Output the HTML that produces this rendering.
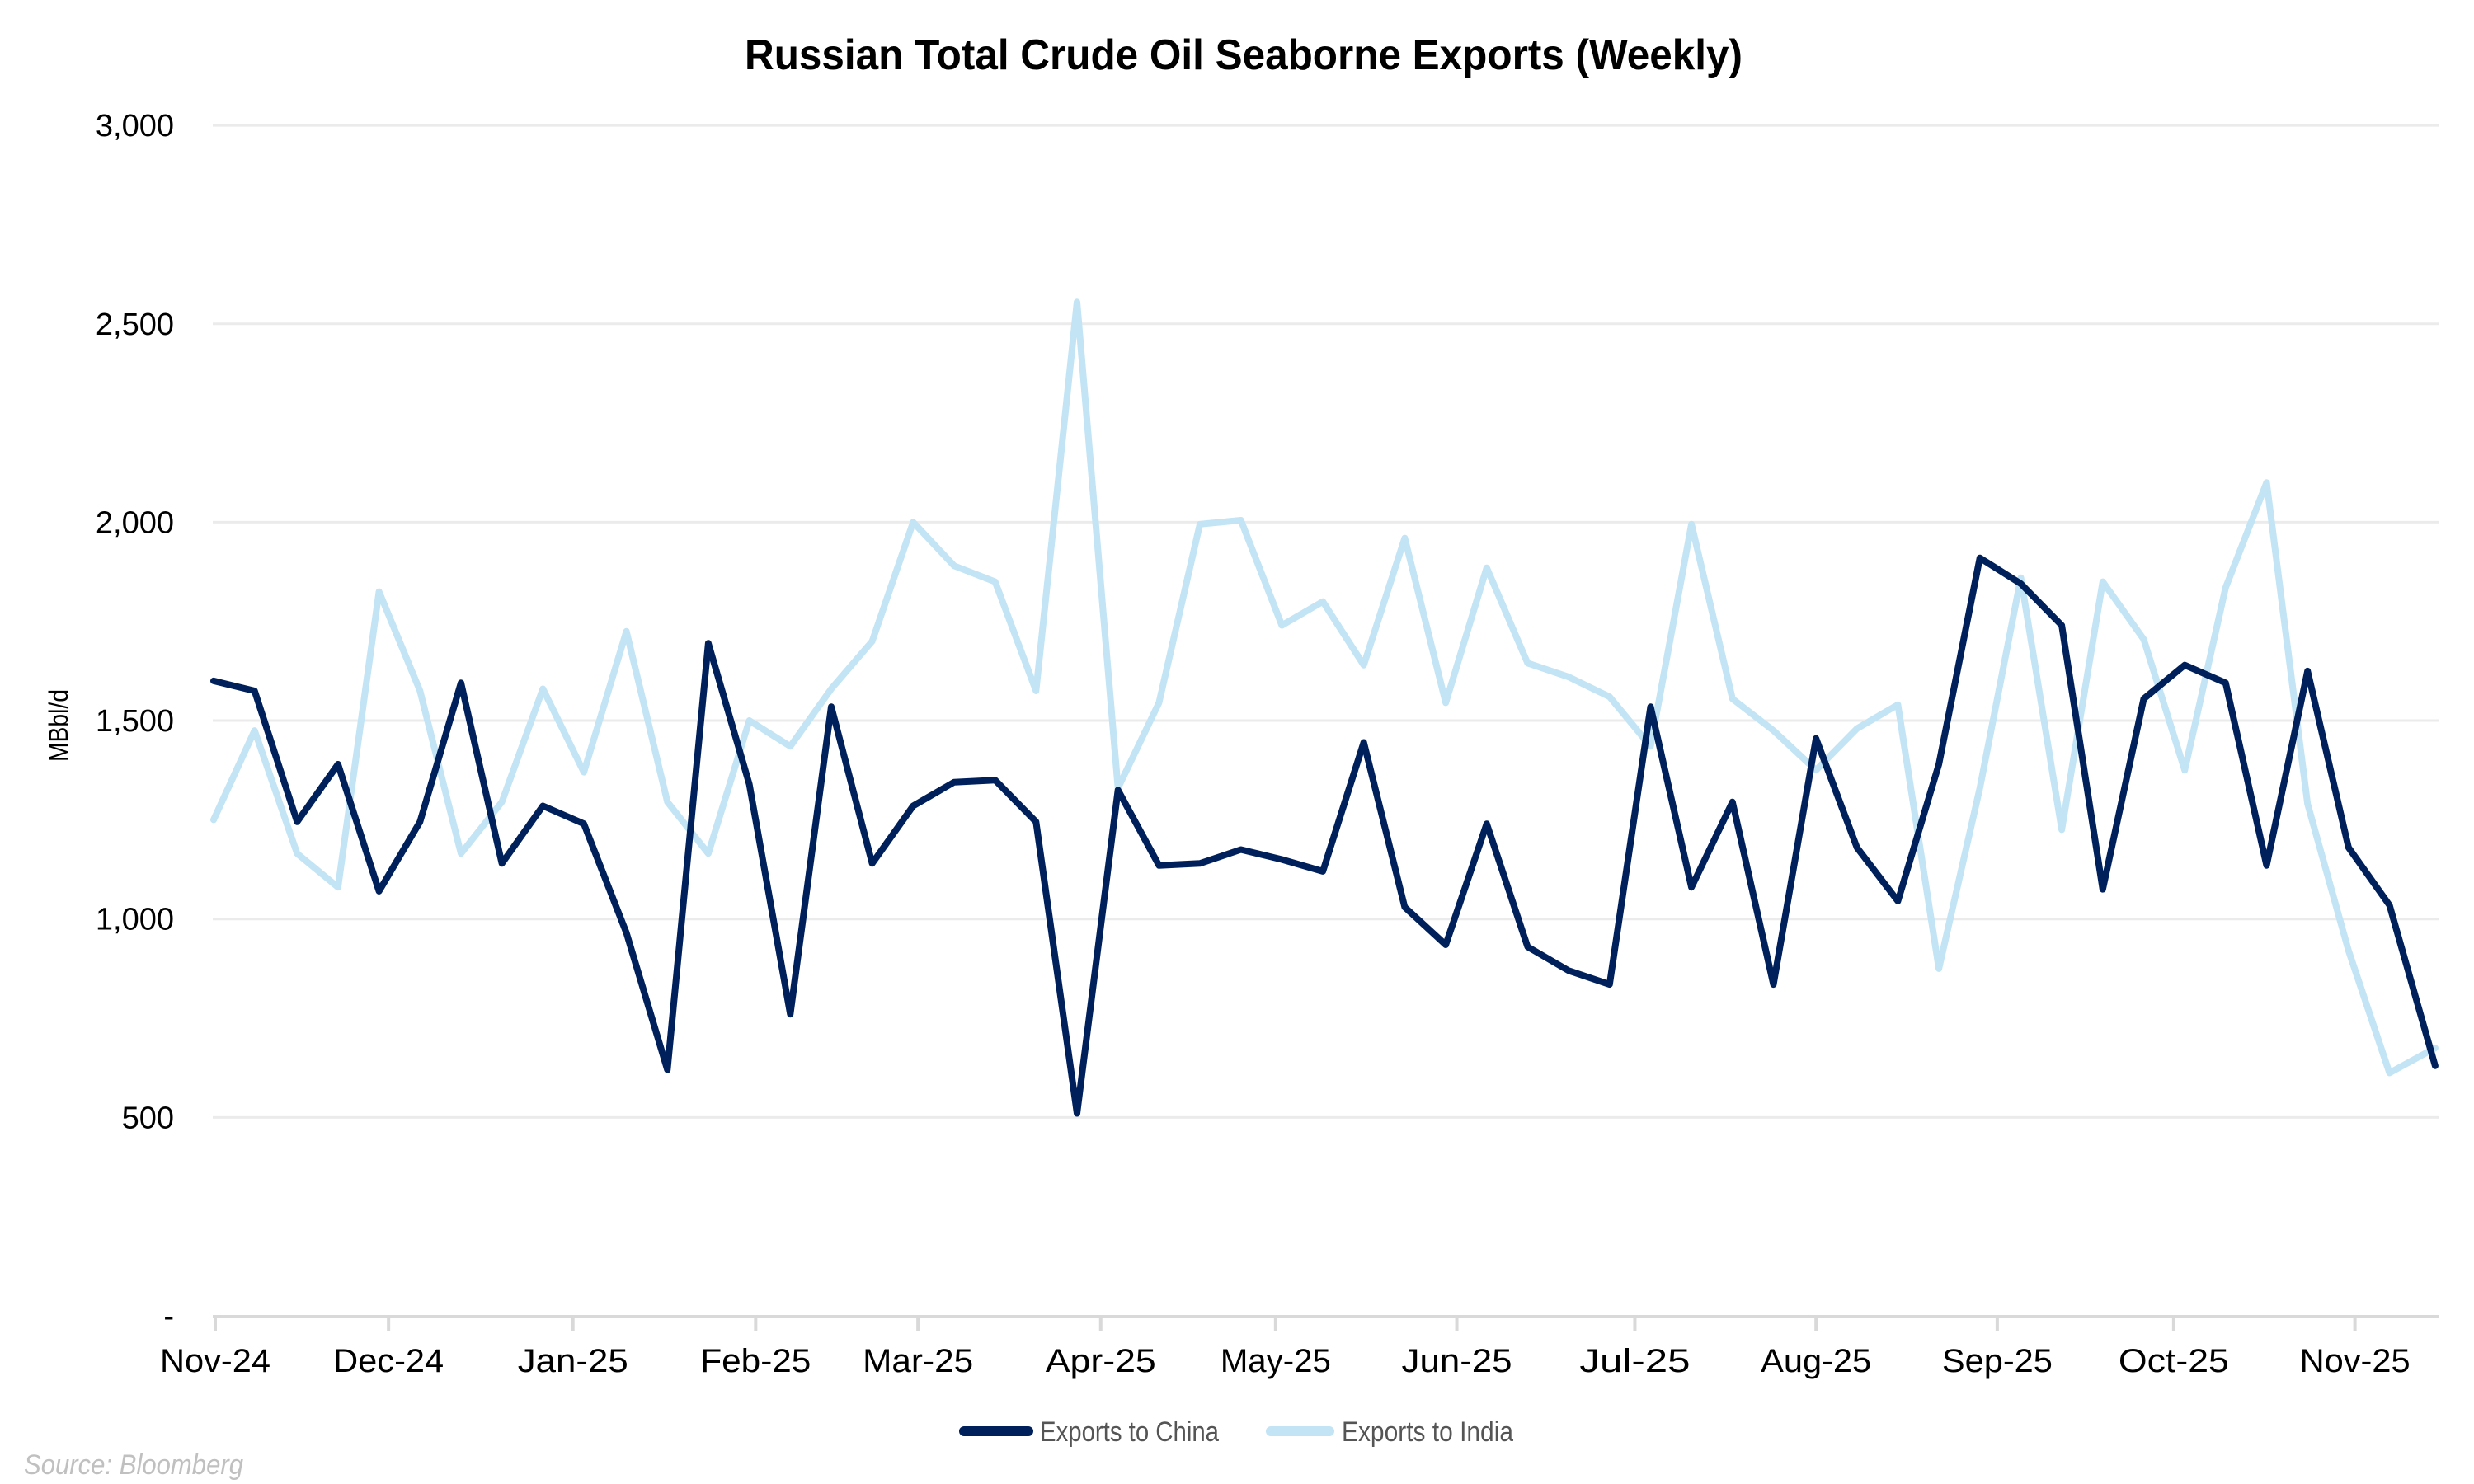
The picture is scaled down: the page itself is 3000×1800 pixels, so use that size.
<!DOCTYPE html>
<html><head><meta charset="utf-8"><style>
html,body{margin:0;padding:0;background:#fff;}
svg{display:block;font-family:"Liberation Sans",sans-serif;}
</style></head><body>
<svg id="c" width="3000" height="1800" viewBox="0 0 3000 1800" xmlns="http://www.w3.org/2000/svg">
<rect width="3000" height="1800" fill="#fff"/>
<text x="1508" y="84" text-anchor="middle" font-size="52" font-weight="bold" textLength="1210" lengthAdjust="spacingAndGlyphs" fill="#000">Russian Total Crude Oil Seaborne Exports (Weekly)</text>
<g id="grid" stroke="#ebebeb" stroke-width="3"></g>
<g id="ylab" font-size="38" fill="#000" text-anchor="end"></g>
<line x1="258" y1="1597" x2="2957" y2="1597" stroke="#d9d9d9" stroke-width="4"/>
<g id="ticks" stroke="#d9d9d9" stroke-width="4"></g>
<g id="xlab" font-size="40" fill="#000" text-anchor="middle"></g>
<text transform="translate(82,880) rotate(-90)" text-anchor="middle" font-size="32" textLength="88" lengthAdjust="spacingAndGlyphs" fill="#000">MBbl/d</text>
<polyline id="india" fill="none" stroke="#c2e4f4" stroke-width="8" stroke-linejoin="round" stroke-linecap="round"/>
<polyline id="china" fill="none" stroke="#00205b" stroke-width="8" stroke-linejoin="round" stroke-linecap="round"/>
<line x1="1169" y1="1736" x2="1247" y2="1736" stroke="#00205b" stroke-width="12" stroke-linecap="round"/>
<text x="1261" y="1748" font-size="34" fill="#555" textLength="217" lengthAdjust="spacingAndGlyphs">Exports to China</text>
<line x1="1541" y1="1736" x2="1612" y2="1736" stroke="#c2e4f4" stroke-width="12" stroke-linecap="round"/>
<text x="1627" y="1748" font-size="34" fill="#555" textLength="208" lengthAdjust="spacingAndGlyphs">Exports to India</text>
<text x="29" y="1800" font-size="34" font-style="italic" fill="#c0c0c0" textLength="266" lengthAdjust="spacingAndGlyphs" dy="-12">Source: Bloomberg</text>
</svg>
<script>
var NS="http://www.w3.org/2000/svg";
function Y(v){return 1596-v*0.4813;}
function X(s){return 259+(s-135)*1.9106;}
var g=document.getElementById('grid'),yl=document.getElementById('ylab');
[500,1000,1500,2000,2500,3000].forEach(function(v){
 var l=document.createElementNS(NS,'line');l.setAttribute('x1',258);l.setAttribute('x2',2957);
 l.setAttribute('y1',Y(v));l.setAttribute('y2',Y(v));g.appendChild(l);});
[[0,'-'],[500,'500'],[1000,'1,000'],[1500,'1,500'],[2000,'2,000'],[2500,'2,500'],[3000,'3,000']].forEach(function(a){
 var t=document.createElementNS(NS,'text');t.setAttribute('x',211);t.setAttribute('y',Y(a[0])+13);t.textContent=a[1];yl.appendChild(t);});
var tk=document.getElementById('ticks'),xl=document.getElementById('xlab');
var months=[[135,'Nov-24'],[245,'Dec-24'],[362,'Jan-25'],[478,'Feb-25'],[581,'Mar-25'],[697,'Apr-25'],[808,'May-25'],[923,'Jun-25'],[1036,'Jul-25'],[1151,'Aug-25'],[1266,'Sep-25'],[1378,'Oct-25'],[1493,'Nov-25']];
months.forEach(function(m){var x=X(m[0])+2;
 var l=document.createElementNS(NS,'line');l.setAttribute('x1',x);l.setAttribute('x2',x);l.setAttribute('y1',1597);l.setAttribute('y2',1614);tk.appendChild(l);
 var t=document.createElementNS(NS,'text');t.setAttribute('x',x);t.setAttribute('y',1664);t.setAttribute('textLength',134);t.setAttribute('lengthAdjust','spacingAndGlyphs');t.textContent=m[1];xl.appendChild(t);});
var xs=[135,161,188,214,240,266,292,318,344,370,397,423,449,475,501,527,553,579,605,631,657,683,709,735,761,787,813,839,865,891,917,943,969,995,1021,1047,1073,1099,1125,1152,1178,1204,1230,1256,1282,1308,1334,1360,1386,1412,1438,1464,1490,1516,1545];
var ch=[1600,1575,1245,1390,1070,1245,1595,1140,1285,1240,965,620,1695,1340,760,1535,1140,1285,1345,1350,1245,510,1325,1135,1140,1175,1150,1120,1445,1030,935,1240,930,870,835,1535,1080,1295,835,1455,1180,1045,1390,1910,1845,1740,1075,1555,1640,1595,1135,1625,1180,1035,630];
var ind=[1250,1475,1165,1080,1825,1575,1165,1295,1580,1370,1725,1295,1165,1500,1435,1580,1700,2000,1890,1850,1575,2555,1330,1545,1995,2005,1740,1800,1640,1960,1545,1885,1645,1610,1560,1435,1995,1555,1475,1375,1480,1540,875,1330,1860,1225,1850,1705,1375,1835,2100,1290,920,612,675];
function pts(d){return d.map(function(v,i){return X(xs[i]).toFixed(1)+','+Y(v).toFixed(1);}).join(' ');}
document.getElementById('china').setAttribute('points',pts(ch));
document.getElementById('india').setAttribute('points',pts(ind));
</script>
</body></html>
